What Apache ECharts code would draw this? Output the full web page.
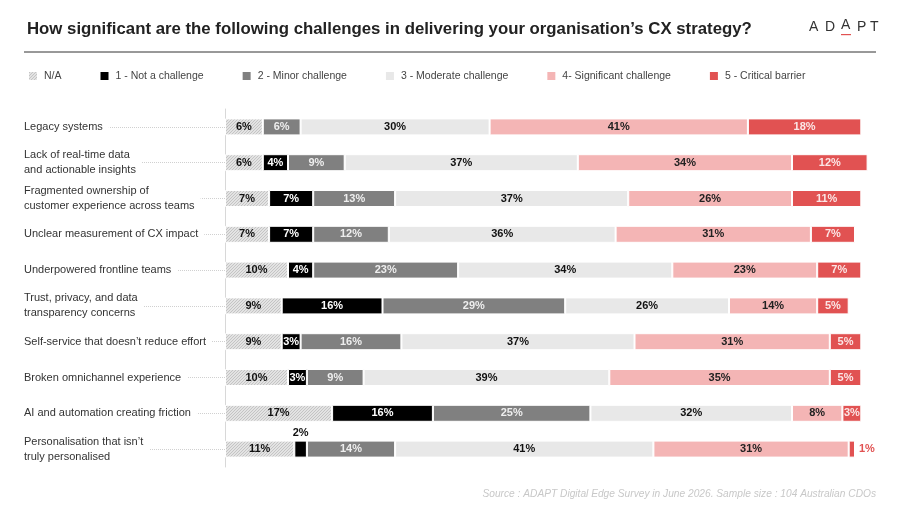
<!DOCTYPE html>
<html>
<head>
<meta charset="utf-8">
<script src="https://cdn.jsdelivr.net/npm/echarts@6/dist/echarts.min.js"></script>
<style>html,body{margin:0;padding:0;background:#fff}#c{width:900px;height:506px}</style>
</head>
<body>
<div id="c"></div>
<script>
const categories = [
  'Legacy systems',
  'Lack of real-time data\nand actionable insights',
  'Fragmented ownership of\ncustomer experience across teams',
  'Unclear measurement of CX impact',
  'Underpowered frontline teams',
  'Trust, privacy, and data\ntransparency concerns',
  'Self-service that doesn\u2019t reduce effort',
  'Broken omnichannel experience',
  'AI and automation creating friction',
  'Personalisation that isn\u2019t\ntruly personalised'
];
const seriesNames = ['N/A', '1 - Not a challenge', '2 - Minor challenge', '3 - Moderate challenge', '4- Significant challenge', '5 - Critical barrier'];
const naVals       = [6, 6, 7, 7, 10, 9, 9, 10, 17, 11];
const notVals      = [0, 4, 7, 7, 4, 16, 3, 3, 16, 2];
const minorVals    = [6, 9, 13, 12, 23, 29, 16, 9, 25, 14];
const moderateVals = [30, 37, 37, 36, 34, 26, 37, 39, 32, 41];
const sigVals      = [41, 34, 26, 31, 23, 14, 31, 35, 8, 31];
const critVals     = [18, 12, 11, 7, 7, 5, 5, 5, 3, 1];

function hatch() {
  const s = 3;
  const c = document.createElement('canvas');
  c.width = s; c.height = s;
  const g = c.getContext('2d');
  g.fillStyle = '#e3e3e3';
  g.fillRect(0, 0, s, s);
  g.strokeStyle = '#c4c4c4';
  g.lineWidth = 1;
  g.beginPath();
  g.moveTo(0, s); g.lineTo(s, 0);
  g.moveTo(-1, 1); g.lineTo(1, -1);
  g.moveTo(s - 1, s + 1); g.lineTo(s + 1, s - 1);
  g.stroke();
  return c;
}

const colors = [{ image: hatch(), repeat: 'repeat' }, '#000000', '#808080', '#e8e8e8', '#f4b5b5', '#e15252'];
const labelColors = ['#111', '#fff', '#eeeeee', '#111', '#222', '#fbe6e6'];
const values = [naVals, notVals, minorVals, moderateVals, sigVals, critVals];

const FONT = '"Liberation Sans", Arial, sans-serif';

const series = values.map((vals, si) => ({
  name: seriesNames[si],
  type: 'bar',
  stack: 'all',
  barWidth: 17,
  clip: false,
  itemStyle: { color: colors[si], borderColor: '#fff', borderWidth: 1 },
  label: {
    show: true,
    position: 'inside',
    fontFamily: FONT,
    fontSize: 11,
    fontWeight: 'bold',
    color: labelColors[si],
    formatter: p => (p.value > 0 ? p.value + '%' : '')
  },
  data: vals.map(v => {
    if (si === 1 && v > 0 && v <= 2) {
      return { value: v, label: { position: 'top', color: '#111', distance: 2 } };
    }
    if (si === 5 && v <= 1) {
      return { value: v, label: { position: 'right', color: '#e15252', distance: 4 } };
    }
    return v;
  })
}));

const chart = echarts.init(document.getElementById('c'));
chart.setOption({
  animation: false,
  textStyle: { fontFamily: FONT },
  title: [
    {
      text: 'How significant are the following challenges in delivering your organisation\u2019s CX strategy?',
      left: 22, top: 16,
      textStyle: { fontFamily: FONT, fontSize: 16.8, fontWeight: 'bold', color: '#222' }
    },
    {
      text: 'Source : ADAPT Digital Edge Survey in June 2026. Sample size : 104 Australian CDOs',
      right: 19, top: 484,
      textStyle: { fontFamily: FONT, fontSize: 10.2, fontStyle: 'italic', fontWeight: 'normal', color: '#c8c8c8' }
    }
  ],
  legend: {
    data: seriesNames,
    left: 22, top: 65,
    itemWidth: 10, itemHeight: 10,
    itemGap: 37,
    icon: 'rect',
    textStyle: { fontFamily: FONT, fontSize: 10.5, color: '#444', padding: [0, 0, 0, 1] }
  },
  grid: { left: 225, right: 45, top: 109, bottom: 39, containLabel: false },
  xAxis: {
    type: 'value', min: 0, max: 100, show: false
  },
  yAxis: {
    type: 'category',
    inverse: true,
    data: categories,
    axisLine: { show: true, lineStyle: { color: '#d8d8d8', width: 1 } },
    axisTick: { show: true, alignWithLabel: true, length: 198, lineStyle: { color: '#d0d0d0', type: 'dotted', width: 1 } },
    axisLabel: {
      align: 'left',
      margin: 201,
      fontFamily: FONT,
      fontSize: 11,
      lineHeight: 15,
      color: '#333',
      backgroundColor: '#fff',
      padding: [0, 6, 0, 0]
    }
  },
  graphic: [
    { type: 'line', shape: { x1: 24, y1: 52, x2: 876, y2: 52 }, style: { stroke: '#333', lineWidth: 1 } },
    { type: 'text', left: 809, top: 20, style: { text: 'A', font: '14px ' + FONT, fill: '#333' } },
    { type: 'text', left: 825, top: 20, style: { text: 'D', font: '14px ' + FONT, fill: '#333' } },
    { type: 'text', left: 841, top: 18, style: { text: 'A', font: '14px ' + FONT, fill: '#333' } },
    { type: 'rect', shape: { x: 841, y: 34, width: 10, height: 1.2 }, style: { fill: '#e15252' } },
    { type: 'text', left: 857, top: 20, style: { text: 'P', font: '14px ' + FONT, fill: '#333' } },
    { type: 'text', left: 870, top: 20, style: { text: 'T', font: '14px ' + FONT, fill: '#333' } }
  ],
  series: series
});
</script>
</body>
</html>
